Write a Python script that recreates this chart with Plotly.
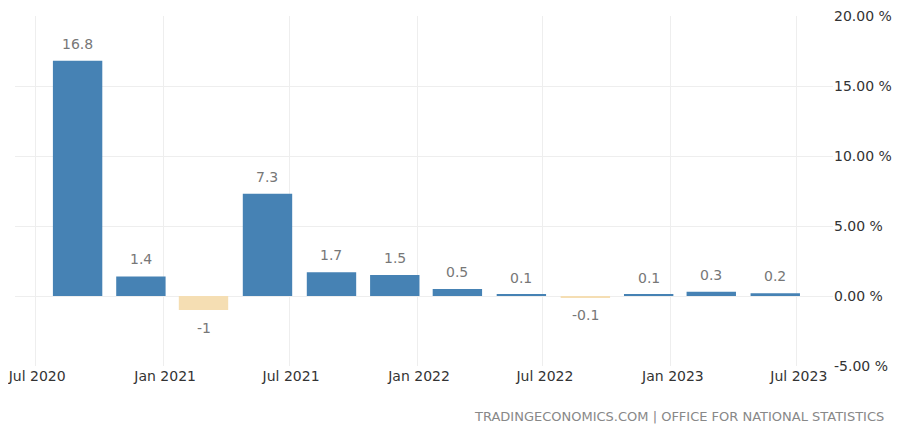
import plotly.graph_objects as go

# quarterly GDP growth, QoQ %
quarters = ["2020-08-31", "2020-11-30", "2021-02-28", "2021-05-31",
            "2021-08-31", "2021-11-30", "2022-02-28", "2022-05-31",
            "2022-08-31", "2022-11-30", "2023-02-28", "2023-05-31"]
growth = [16.8, 1.4, -1, 7.3, 1.7, 1.5, 0.5, 0.1, -0.1, 0.1, 0.3, 0.2]
labels = ["16.8", "1.4", "-1", "7.3", "1.7", "1.5", "0.5", "0.1", "-0.1", "0.1", "0.3", "0.2"]

y_ticks = [-5, 0, 5, 10, 15, 20]
y_ticktext = ["-5.00 %", "0.00 %", "5.00 %", "10.00 %", "15.00 %", "20.00 %"]

FONT = "DejaVu Sans"
colors = ["#4682B4" if v >= 0 else "#F5DEB3" for v in growth]

fig = go.Figure(go.Bar(
    x=quarters, y=growth,
    marker=dict(color=colors, line=dict(width=0)),
    width=71 * 86400000,
    hoverinfo="x+y",
))

for q, v, t in zip(quarters, growth, labels):
    fig.add_annotation(
        x=q, y=v, text=t, showarrow=False,
        yanchor="bottom" if v >= 0 else "top",
        yshift=7 if v >= 0 else -8,
        font=dict(family=FONT, size=14, color="#777777"),
    )

fig.add_annotation(
    text="TRADINGECONOMICS.COM | OFFICE FOR NATIONAL STATISTICS",
    xref="paper", yref="paper", x=1.065, y=-0.143,
    xanchor="right", yanchor="middle", showarrow=False,
    font=dict(family=FONT, size=13, color="#888888"),
)

# page body keeps an 8px margin, so the figure is a bit smaller than the window
fig.update_layout(
    width=884, height=416,
    margin=dict(l=7, r=59, t=8, b=58),
    plot_bgcolor="white", paper_bgcolor="white",
    showlegend=False,
    font=dict(family=FONT, size=14, color="#333333"),
    xaxis=dict(
        type="date",
        range=["2020-06-02", "2023-08-22"],
        tick0="2020-07-01", dtick="M6", tickformat="%b %Y",
        showgrid=True, gridcolor="#eeeeee", gridwidth=1,
        zeroline=False, showline=False, ticks="",
        tickfont=dict(size=14, color="#333333"),
        ticklabelshift=2,
        ticklabeloverflow="allow",
        automargin=False,
    ),
    yaxis=dict(
        side="right",
        range=[-5, 20],
        tickvals=y_ticks, ticktext=y_ticktext,
        showgrid=True, gridcolor="#eeeeee", gridwidth=1,
        zeroline=False, showline=False, ticks="",
        tickfont=dict(size=14, color="#333333"),
        ticklabeloverflow="allow",
        automargin=False,
    ),
)

fig.write_html("out.html")
